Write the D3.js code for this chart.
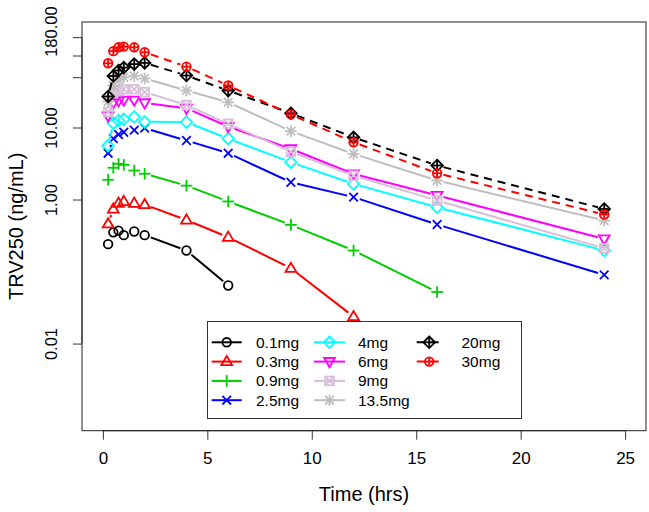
<!DOCTYPE html>
<html><head><meta charset="utf-8">
<script src="https://cdn.jsdelivr.net/npm/d3@7"></script>
<style>body{margin:0;background:#fff}svg{display:block;font-family:"Liberation Sans",Arial,sans-serif}</style>
</head><body><svg id="c" width="649" height="512"></svg>
<script>
const times = [0.25,0.5,0.75,1,1.5,2,4,6,9,12,16,24];
const doses = ["0.1mg","0.3mg","0.9mg","2.5mg","4mg","6mg","9mg","13.5mg","20mg","30mg"];
const conc_0_1  = [0.24,0.35,0.37,0.32,0.36,0.32,0.196,0.064];
const conc_0_3  = [0.46,0.74,0.89,0.94,0.89,0.85,0.52,0.30,0.111,0.0237];
const conc_0_9  = [1.88,2.76,3.13,3.03,2.53,2.28,1.56,0.94,0.445,0.196,0.052];
const conc_2_5  = [4.4,7.0,8.0,8.6,9.2,9.8,6.6,4.4,1.74,1.08,0.45,0.09];
const conc_4    = [5.6,11.5,12.5,13.0,14.0,12.0,11.9,7.0,3.3,1.65,0.78,0.196];
const conc_6    = [14.5,22,23.5,24,24,22,18.5,10.3,5.06,2.27,1.14,0.284];
const conc_9    = [16.5,30,32,34,34,31,20.5,11.3,4.6,2.15,0.97,0.21];
const conc_13_5 = [23,38,46,50,52,48,32.6,22.4,8.9,4.3,1.84,0.51];
const conc_20   = [27,52,62,68,76,79,52.7,32.6,15.8,7.3,2.97,0.74];
const conc_30   = [78,115,130,133,130,111,70,38.3,15.2,6.25,2.32,0.62];
const yTicks = [0.01,1,10,50,100,180];
const yTickLabels = ["0.01","1.00","10.00","","","180.00"];
const xTicks = [0,5,10,15,20,25];

const seriesVals = [conc_0_1,conc_0_3,conc_0_9,conc_2_5,conc_4,conc_6,conc_9,conc_13_5,conc_20,conc_30];
const colors = ["#000000","#ff0000","#00cd00","#0000ff","#00ffff","#ff00ff","#d8bfd8","#bebebe","#000000","#ff0000"];
const pchs = [1,2,3,4,5,6,7,8,9,10];
const dashed = [false,false,false,false,false,false,false,false,true,true];

const svg = d3.select("#c");
const L=82,R=646,T=22,B=430.7;
const x = d3.scaleLinear().domain([-1,26]).range([L,R]);
const lr = Math.log10(180)-Math.log10(0.001);
const y = d3.scaleLog().domain([Math.pow(10,-3-0.04*lr),Math.pow(10,Math.log10(180)+0.04*lr)]).range([B,T]);

function marker(g,pch,cx,cy,col){
  const s = g.append("g").attr("transform",`translate(${cx},${cy})`)
    .attr("fill","none").attr("stroke",col).attr("stroke-width",1.8);
  const r=4.3;
  const plus=(k)=>{s.append("line").attr("x1",-k).attr("x2",k).attr("y1",0).attr("y2",0);
                   s.append("line").attr("y1",-k).attr("y2",k).attr("x1",0).attr("x2",0);};
  const cross=(k)=>{s.append("line").attr("x1",-k).attr("x2",k).attr("y1",-k).attr("y2",k);
                    s.append("line").attr("x1",-k).attr("x2",k).attr("y1",k).attr("y2",-k);};
  switch(pch){
    case 1: s.append("circle").attr("r",r); break;
    case 2: s.append("path").attr("d",`M0,${-5.6}L${5.4},${3.6}L${-5.4},${3.6}Z`); break;
    case 3: plus(5.8); break;
    case 4: cross(4.3); break;
    case 5: s.append("path").attr("d",`M0,-5.8L5.8,0L0,5.8L-5.8,0Z`); break;
    case 6: s.append("path").attr("d",`M0,${5.6}L${5.4},${-3.6}L${-5.4},${-3.6}Z`); break;
    case 7: s.append("rect").attr("x",-4.3).attr("y",-4.3).attr("width",8.6).attr("height",8.6); cross(4.3); break;
    case 8: plus(5.8); cross(4.3); break;
    case 9: s.append("path").attr("d",`M0,-5.8L5.8,0L0,5.8L-5.8,0Z`); plus(5.8); break;
    case 10: s.append("circle").attr("r",r); plus(r); break;
  }
}

// axes
const xa = svg.append("g").attr("transform",`translate(0,${B})`)
  .call(d3.axisBottom(x).tickValues(xTicks).tickSize(9).tickPadding(12).tickFormat(d3.format("d")));
xa.select(".domain").attr("d",`M${x(0)},0H${x(25)}`).attr("stroke","#333");
xa.selectAll(".tick line").attr("stroke","#333");
xa.selectAll("text").attr("font-size",17).attr("fill","#000").attr("font-family","Liberation Sans, Arial, sans-serif");

const ya = svg.append("g").attr("transform",`translate(${L},0)`)
  .call(d3.axisLeft(y).tickValues(yTicks).tickSize(9).tickFormat((d,i)=>yTickLabels[i]));
ya.select(".domain").attr("d",`M0,${y(180)}V${y(0.01)}`).attr("stroke","#333");
ya.selectAll(".tick line").attr("stroke","#333");
ya.selectAll(".tick text").attr("font-size",16.5).attr("fill","#000").attr("font-family","Liberation Sans, Arial, sans-serif")
  .attr("transform",null).attr("text-anchor","middle")
  .attr("x",0).attr("dy",null).attr("y",0)
  .attr("transform",(d)=>`translate(-25,${d===180?-6:0}) rotate(-90)`);

// box
svg.append("rect").attr("x",L).attr("y",T).attr("width",R-L).attr("height",B-T)
  .attr("fill","none").attr("stroke","#222").attr("stroke-width",1);

// titles
svg.append("text").attr("x",(L+R)/2).attr("y",501).attr("text-anchor","middle")
  .attr("font-size",20).text("Time (hrs)");
svg.append("text").attr("transform",`translate(23,${(T+B)/2}) rotate(-90)`).attr("text-anchor","middle")
  .attr("font-size",20).text("TRV250 (ng/mL)");

// series
const gap = 6.5;
seriesVals.forEach((vals,si)=>{
  const g = svg.append("g");
  const pts = vals.map((v,i)=>[x(times[i]),y(v)]);
  for(let i=0;i<pts.length-1;i++){
    const [x1,y1]=pts[i],[x2,y2]=pts[i+1];
    const dx=x2-x1,dy=y2-y1,len=Math.hypot(dx,dy);
    if(len<=2*gap) continue;
    const ux=dx/len,uy=dy/len;
    g.append("line").attr("x1",x1+ux*gap).attr("y1",y1+uy*gap).attr("x2",x2-ux*gap).attr("y2",y2-uy*gap)
      .attr("stroke",colors[si]).attr("stroke-width",2)
      .attr("stroke-dasharray",dashed[si]?"8,6":null);
  }
  pts.forEach(p=>marker(g,pchs[si],p[0],p[1],colors[si]));
});

// legend
const lg = svg.append("g");
lg.append("rect").attr("x",207.5).attr("y",321.5).attr("width",314).attr("height",97)
  .attr("fill","#fff").attr("stroke","#333").attr("stroke-width",1);
const colX = [[211.7,241.7,256],[314,345,358],[416.7,441.7,461.5]];
const rowY = [342.3,361.6,380.9,400.2];
doses.forEach((d,i)=>{
  const c = i<4?0:(i<8?1:2);
  const r = i<4?i:(i<8?i-4:i-8);
  const [a,b,t]=colX[c], yy=rowY[r];
  lg.append("line").attr("x1",a).attr("x2",b).attr("y1",yy).attr("y2",yy)
    .attr("stroke",colors[i]).attr("stroke-width",2).attr("stroke-dasharray",dashed[i]?"8,6":null);
  marker(lg,pchs[i],(a+b)/2,yy,colors[i]);
  lg.append("text").attr("x",t).attr("y",yy+5.5).attr("font-size",15.5).text(d);
});
</script></body></html>
